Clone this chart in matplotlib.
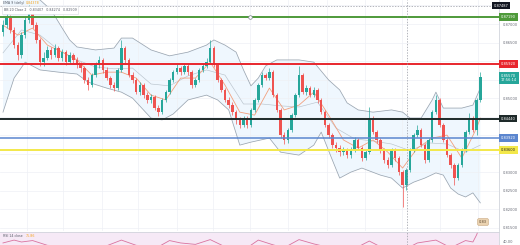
import matplotlib

matplotlib.use("Agg")
import matplotlib.pyplot as plt
import matplotlib.transforms as mtransforms
import numpy as np

# candles, one per session
OPENS = [0.8678, 0.8697, 0.8716, 0.8684, 0.8643, 0.8616, 0.8670, 0.8711, 0.8732, 0.8697,
         0.8657, 0.8597, 0.8608, 0.8630, 0.8616, 0.8635, 0.8608, 0.8624, 0.8597, 0.8616,
         0.8603, 0.8589, 0.8581, 0.8549, 0.8535, 0.8562, 0.8589, 0.8603, 0.8576, 0.8554,
         0.8535, 0.8527, 0.8576, 0.8635, 0.8603, 0.8562, 0.8549, 0.8516, 0.8535, 0.8508,
         0.8495, 0.8503, 0.8473, 0.8462, 0.8495, 0.8516, 0.8549, 0.8570, 0.8581, 0.8570,
         0.8587, 0.8570, 0.8535, 0.8549, 0.8576, 0.8587, 0.8597, 0.8635, 0.8589, 0.8549,
         0.8522, 0.8495, 0.8481, 0.8462, 0.8441, 0.8427, 0.8446, 0.8427, 0.8468, 0.8495,
         0.8535, 0.8562, 0.8554, 0.8570, 0.8508, 0.8468, 0.8400, 0.8387, 0.8414, 0.8454,
         0.8508, 0.8562, 0.8516, 0.8527, 0.8508, 0.8522, 0.8495, 0.8462, 0.8427, 0.8400,
         0.8373, 0.8365, 0.8354, 0.8360, 0.8346, 0.8360, 0.8387, 0.8365, 0.8338, 0.8354,
         0.8446, 0.8408, 0.8387, 0.8360, 0.8333, 0.8319, 0.8360, 0.8338, 0.8300, 0.8265,
         0.8306, 0.8360, 0.8400, 0.8414, 0.8373, 0.8333, 0.8387, 0.8462, 0.8495, 0.8427,
         0.8387, 0.8346, 0.8319, 0.8284, 0.8319, 0.8360, 0.8408, 0.8446, 0.8414, 0.8495]
CLOSES = [0.8697, 0.8716, 0.8684, 0.8643, 0.8616, 0.8670, 0.8711, 0.8732, 0.8697, 0.8657,
          0.8597, 0.8608, 0.8630, 0.8616, 0.8635, 0.8608, 0.8624, 0.8597, 0.8616, 0.8603,
          0.8589, 0.8581, 0.8549, 0.8535, 0.8562, 0.8589, 0.8603, 0.8576, 0.8554, 0.8535,
          0.8527, 0.8576, 0.8635, 0.8603, 0.8562, 0.8549, 0.8516, 0.8535, 0.8508, 0.8495,
          0.8503, 0.8473, 0.8462, 0.8495, 0.8516, 0.8549, 0.8570, 0.8581, 0.8570, 0.8587,
          0.8570, 0.8535, 0.8549, 0.8576, 0.8587, 0.8597, 0.8635, 0.8589, 0.8549, 0.8522,
          0.8495, 0.8481, 0.8462, 0.8441, 0.8427, 0.8446, 0.8427, 0.8468, 0.8495, 0.8535,
          0.8562, 0.8554, 0.8570, 0.8508, 0.8468, 0.8400, 0.8387, 0.8414, 0.8454, 0.8508,
          0.8562, 0.8516, 0.8527, 0.8508, 0.8522, 0.8495, 0.8462, 0.8427, 0.8400, 0.8373,
          0.8365, 0.8354, 0.8360, 0.8346, 0.8360, 0.8387, 0.8365, 0.8338, 0.8354, 0.8446,
          0.8408, 0.8387, 0.8360, 0.8333, 0.8319, 0.8360, 0.8338, 0.8300, 0.8265, 0.8306,
          0.8360, 0.8400, 0.8414, 0.8373, 0.8333, 0.8387, 0.8462, 0.8495, 0.8427, 0.8387,
          0.8346, 0.8319, 0.8284, 0.8319, 0.8360, 0.8408, 0.8446, 0.8414, 0.8495, 0.8557]
HIGHS = [0.8711, 0.8732, 0.8724, 0.8692, 0.8651, 0.8678, 0.8722, 0.8751, 0.8741, 0.8705,
         0.8662, 0.8624, 0.8641, 0.8638, 0.8646, 0.8641, 0.8633, 0.8630, 0.8624, 0.8622,
         0.8611, 0.8597, 0.8587, 0.8557, 0.8568, 0.8597, 0.8614, 0.8608, 0.8584, 0.8560,
         0.8543, 0.8581, 0.8657, 0.8641, 0.8608, 0.8570, 0.8554, 0.8543, 0.8541, 0.8516,
         0.8511, 0.8508, 0.8481, 0.8500, 0.8522, 0.8554, 0.8576, 0.8592, 0.8587, 0.8595,
         0.8592, 0.8576, 0.8554, 0.8581, 0.8595, 0.8608, 0.8657, 0.8641, 0.8595, 0.8554,
         0.8527, 0.8503, 0.8489, 0.8468, 0.8449, 0.8452, 0.8452, 0.8473, 0.8500, 0.8541,
         0.8570, 0.8568, 0.8581, 0.8576, 0.8514, 0.8473, 0.8408, 0.8419, 0.8460, 0.8514,
         0.8587, 0.8568, 0.8535, 0.8533, 0.8530, 0.8527, 0.8500, 0.8468, 0.8433, 0.8406,
         0.8381, 0.8373, 0.8368, 0.8365, 0.8368, 0.8395, 0.8392, 0.8371, 0.8360, 0.8476,
         0.8452, 0.8414, 0.8392, 0.8365, 0.8341, 0.8365, 0.8365, 0.8344, 0.8306, 0.8311,
         0.8365, 0.8406, 0.8427, 0.8419, 0.8379, 0.8392, 0.8468, 0.8508, 0.8500, 0.8433,
         0.8392, 0.8352, 0.8325, 0.8325, 0.8365, 0.8414, 0.8460, 0.8452, 0.8500, 0.8570]
LOWS = [0.8668, 0.8689, 0.8676, 0.8635, 0.8603, 0.8608, 0.8662, 0.8703, 0.8689, 0.8649,
        0.8587, 0.8587, 0.8603, 0.8606, 0.8611, 0.8600, 0.8600, 0.8589, 0.8592, 0.8595,
        0.8581, 0.8570, 0.8541, 0.8522, 0.8530, 0.8557, 0.8581, 0.8568, 0.8549, 0.8527,
        0.8519, 0.8522, 0.8570, 0.8595, 0.8557, 0.8541, 0.8511, 0.8508, 0.8500, 0.8487,
        0.8487, 0.8468, 0.8452, 0.8457, 0.8489, 0.8511, 0.8543, 0.8565, 0.8562, 0.8565,
        0.8562, 0.8527, 0.8530, 0.8543, 0.8570, 0.8581, 0.8592, 0.8584, 0.8543, 0.8516,
        0.8489, 0.8473, 0.8454, 0.8430, 0.8419, 0.8422, 0.8419, 0.8422, 0.8462, 0.8489,
        0.8530, 0.8549, 0.8549, 0.8503, 0.8462, 0.8392, 0.8376, 0.8379, 0.8408, 0.8449,
        0.8503, 0.8511, 0.8508, 0.8503, 0.8503, 0.8487, 0.8457, 0.8422, 0.8392, 0.8365,
        0.8354, 0.8344, 0.8346, 0.8338, 0.8338, 0.8354, 0.8360, 0.8330, 0.8333, 0.8349,
        0.8403, 0.8379, 0.8352, 0.8325, 0.8311, 0.8314, 0.8330, 0.8292, 0.8206, 0.8252,
        0.8300, 0.8354, 0.8395, 0.8368, 0.8325, 0.8327, 0.8381, 0.8457, 0.8422, 0.8381,
        0.8341, 0.8311, 0.8265, 0.8279, 0.8314, 0.8354, 0.8403, 0.8408, 0.8400, 0.8489]

# Bollinger bands and EMA, read at a subset of sessions
BB_UPPER_IDX = [0, 5, 10, 13, 16, 18, 20, 25, 30, 32, 35, 40, 45, 50, 55, 57, 60, 63, 65, 67,
                69, 71, 74, 77, 80, 84, 88, 91, 93, 96, 100, 105, 108, 110, 113, 116, 117, 119,
                124, 127, 129]
BB_UPPER = [0.8778, 0.8778, 0.8765, 0.8738, 0.8689, 0.8657, 0.8638, 0.8630, 0.8635, 0.8662,
            0.8662, 0.8630, 0.8614, 0.8624, 0.8643, 0.8657, 0.8643, 0.8624, 0.8576, 0.8533,
            0.8554, 0.8587, 0.8603, 0.8603, 0.8603, 0.8597, 0.8549, 0.8522, 0.8487, 0.8468,
            0.8462, 0.8468, 0.8462, 0.8446, 0.8446, 0.8495, 0.8516, 0.8473, 0.8473, 0.8481,
            0.8527]
BB_LOWER_IDX = [0, 3, 6, 10, 15, 20, 23, 28, 32, 35, 40, 43, 46, 50, 55, 58, 61, 64, 67, 72,
                75, 80, 84, 86, 89, 91, 94, 97, 102, 105, 108, 111, 114, 117, 119, 121, 123,
                125, 127, 129]
BB_LOWER = [0.8462, 0.8554, 0.8597, 0.8576, 0.8570, 0.8565, 0.8543, 0.8527, 0.8516, 0.8500,
            0.8446, 0.8441, 0.8457, 0.8495, 0.8508, 0.8495, 0.8468, 0.8373, 0.8381, 0.8392,
            0.8354, 0.8346, 0.8373, 0.8408, 0.8333, 0.8284, 0.8300, 0.8311, 0.8292, 0.8284,
            0.8257, 0.8273, 0.8284, 0.8298, 0.8292, 0.8257, 0.8241, 0.8233, 0.8244, 0.8217]
BB_BASIS_IDX = [0, 5, 10, 15, 20, 25, 30, 35, 40, 45, 50, 55, 60, 65, 70, 75, 80, 85, 90, 95,
                100, 105, 110, 115, 120, 125, 129]
BB_BASIS = [0.8622, 0.8684, 0.8670, 0.8630, 0.8603, 0.8584, 0.8579, 0.8581, 0.8538, 0.8533,
            0.8560, 0.8576, 0.8562, 0.8484, 0.8484, 0.8479, 0.8476, 0.8489, 0.8419, 0.8390,
            0.8384, 0.8376, 0.8358, 0.8379, 0.8376, 0.8354, 0.8373]
EMA_IDX = [0, 4, 8, 12, 16, 20, 24, 28, 32, 36, 40, 44, 48, 52, 56, 60, 64, 68, 72, 76, 80,
           84, 88, 92, 96, 100, 104, 108, 112, 116, 120, 124, 128, 129]
EMA = [0.8697, 0.8670, 0.8689, 0.8643, 0.8624, 0.8603, 0.8562, 0.8570, 0.8570, 0.8554,
       0.8508, 0.8495, 0.8554, 0.8554, 0.8597, 0.8535, 0.8462, 0.8454, 0.8527, 0.8468,
       0.8481, 0.8516, 0.8454, 0.8387, 0.8365, 0.8387, 0.8354, 0.8311, 0.8365, 0.8392,
       0.8400, 0.8338, 0.8419, 0.8446]

RSI_IDX = [0, 3, 5, 8, 12, 20, 28, 32, 36, 42, 45, 48, 52, 56, 60, 66, 69, 73, 76, 80, 84,
           90, 96, 99, 102, 108, 112, 117, 121, 125, 127, 128, 129]
RSI = [38, 44, 40, 43, 33, 30, 32, 44, 33, 30, 43, 38, 35, 45, 30, 28, 44, 34, 28, 45, 36,
       25, 30, 42, 30, 22, 38, 44, 28, 43, 40, 55, 76]

# drawn levels and price tags
LEVELS = [
    (0.8719, "#4e9a3a", 1.4, "0.87190"),
    (0.8592, "#e8262d", 1.4, "0.85920"),
    (0.8444, "#1e2a2a", 1.4, "0.84440"),
    (0.8392, "#5b86cf", 1.1, "0.83920"),
    (0.8360, "#f3e84a", 1.4, "0.83600"),
]
LAST_PRICE = "0.85570"
COUNTDOWN = "17:56:14"
CROSS_IDX = 109.2
CROSS_PRICE = 0.8749
HANDLE_IDX = 66.8
PRICE_TICKS = [0.815, 0.820, 0.825, 0.830, 0.835, 0.840, 0.845, 0.850, 0.855, 0.860,
               0.865, 0.870, 0.875]
# scale labels that the price tags sit on top of
HIDDEN_TICKS = [0.835, 0.840, 0.845, 0.855, 0.860, 0.875]
GRID_IDX = [6.5, 16.2, 26.8, 36.5, 47.0, 56.8, 66.8, 77.0, 87.6, 97.8, 107.8, 118.1, 128.4]

W, H = 520, 245
UP, DOWN = "#26a69a", "#ef5350"
AXIS_TXT = "#6a6d78"

fig = plt.figure(figsize=(W / 100, H / 100), dpi=100)
ax = fig.add_axes([0, 14 / H, 499 / W, 231 / H])
rax = fig.add_axes([0, 0, 499 / W, 13.5 / H])

x = np.arange(len(CLOSES))
o = np.array(OPENS)
c = np.array(CLOSES)
colors = np.where(c >= o, UP, DOWN)

# band fill + lines
ax.fill(np.r_[BB_UPPER_IDX, BB_LOWER_IDX[::-1]], np.r_[BB_UPPER, BB_LOWER[::-1]],
        color="#2196f3", alpha=0.07, lw=0, zorder=1)
ax.plot(BB_UPPER_IDX, BB_UPPER, color="#9aa5b1", lw=0.55, zorder=2)
ax.plot(BB_LOWER_IDX, BB_LOWER, color="#9aa5b1", lw=0.55, zorder=2)
ax.plot(BB_BASIS_IDX, BB_BASIS, color="#b9c3cc", lw=0.45, zorder=2)
ax.plot(EMA_IDX, EMA, color="#f2a07e", lw=0.6, zorder=3)

ax.vlines(x, LOWS, HIGHS, colors=colors, lw=0.5, zorder=4)
ax.bar(x, np.abs(c - o), bottom=np.minimum(o, c), width=0.66, color=colors, lw=0, zorder=5)

for price, col, lw, _ in LEVELS:
    ax.axhline(price, color=col, lw=lw, zorder=6)
ax.plot([HANDLE_IDX], [LEVELS[0][0]], "o", ms=2.6, mfc="white", mec="#7d8590", mew=0.5, zorder=7)

ax.axhline(CROSS_PRICE, color="#9598a1", lw=0.5, ls=(0, (2, 2)), zorder=6)
ax.axvline(CROSS_IDX, color="#9598a1", lw=0.5, ls=(0, (2, 2)), zorder=6)
rax.axvline(CROSS_IDX, color="#9598a1", lw=0.5, ls=(0, (2, 2)), zorder=6)

ax.set_xlim(-0.81, 134.05)
ax.set_ylim(0.81411, 0.87648)
ax.set_xticks(GRID_IDX)
ax.set_yticks(PRICE_TICKS)
ax.set_yticklabels(["" if t in HIDDEN_TICKS else f"{t:.5f}" for t in PRICE_TICKS])
ax.yaxis.tick_right()
ax.tick_params(axis="x", length=0, labelbottom=False)
ax.tick_params(axis="y", length=0, pad=3, labelsize=2.6, labelcolor=AXIS_TXT)
ax.grid(True, color="#eef0f5", lw=0.5, zorder=0)
for side in ["top", "left", "bottom"]:
    ax.spines[side].set_visible(False)
ax.spines["right"].set_color("#d1d4dc")
ax.spines["right"].set_linewidth(0.6)

tr = mtransforms.blended_transform_factory(ax.transAxes, ax.transData)


def price_tag(y, text, fc, tc="white", xpos=1.004):
    ax.text(xpos, y, text, transform=tr, ha="left", va="center", fontsize=2.6, color=tc,
            bbox=dict(boxstyle="square,pad=0.45", fc=fc, ec="none"), clip_on=False, zorder=10)


for price, col, _, label in LEVELS:
    price_tag(price, label, col, tc="#222222" if col == "#f3e84a" else "white")
price_tag(c[-1] - 0.0003, f"{LAST_PRICE}\n{COUNTDOWN}", UP)
price_tag(CROSS_PRICE, "0.87487", "#131722", xpos=0.99)

ax.text(0.968, 0.039, "0.83", transform=ax.transAxes, ha="center", va="center", fontsize=2.6,
        color="#5a4630", bbox=dict(boxstyle="round,pad=0.4", fc="#ead2b0", ec="#c9a77e", lw=0.4),
        zorder=10)

# legend lines
fig.text(3 / W, 1 - 3 / H, "EMA 9 (daily)", fontsize=2.3, color="#555a66", va="center")
fig.text(26 / W, 1 - 3 / H, "0.84378", fontsize=2.3, color="#f5a31b", va="center")
fig.text(4 / W, 1 - 10 / H, "BB 20 Close 2   0.83407   0.84274   0.82509", fontsize=2.3,
         color="#555a66", va="center",
         bbox=dict(boxstyle="square,pad=0.5", fc="white", ec="#d6d9e0", lw=0.4))

# RSI pane
rax.set_facecolor("#f6e9f6")
rax.plot(RSI_IDX, RSI, color="#d9739f", lw=0.6)
rax.set_xlim(-0.81, 134.05)
rax.set_ylim(33.7, 62)
rax.set_xticks([])
rax.set_yticks([40])
rax.set_yticklabels(["40.00"])
rax.yaxis.tick_right()
rax.tick_params(axis="y", length=0, pad=3, labelsize=2.6, labelcolor=AXIS_TXT)
for side in ["left", "bottom"]:
    rax.spines[side].set_visible(False)
for side in ["top", "right"]:
    rax.spines[side].set_color("#d1d4dc")
    rax.spines[side].set_linewidth(0.6)
rax.text(0.006, 0.66, "RSI 14 close", transform=rax.transAxes, fontsize=2.3, color="#555a66",
         va="center")
rax.text(0.052, 0.66, "75.86", transform=rax.transAxes, fontsize=2.3, color="#f5a31b",
         va="center")

fig.savefig("out.png", dpi=100, facecolor="white")
